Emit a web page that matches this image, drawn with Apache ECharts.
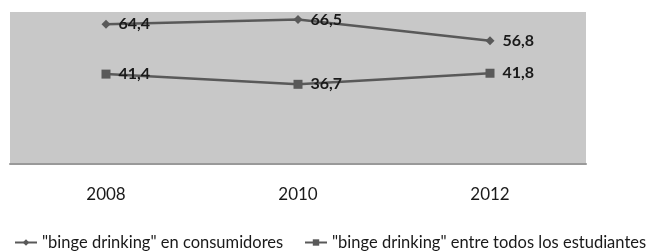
<!DOCTYPE html>
<html>
<head>
<meta charset="utf-8">
<script src="https://cdn.jsdelivr.net/npm/echarts@6/dist/echarts.min.js"></script>
<style>
  html, body { margin: 0; padding: 0; background: #fff; }
  #chart { width: 652px; height: 252px; }
</style>
</head>
<body>
<div id="chart"></div>
<script>
var years = ["2008", "2010", "2012"];
var consumidores = [64.4, 66.5, 56.8];
var estudiantes = [41.4, 36.7, 41.8];
var seriesNames = ['"binge drinking" en consumidores', '"binge drinking" entre todos los estudiantes'];

var font = "Lato, 'Liberation Sans', sans-serif";

function commaLabel(p) {
  return String(p.value).replace(".", ",");
}

// one legend per item so the long second entry never wraps
function legendAt(left, name) {
  return {
    top: 234, left: left, padding: 0,
    itemWidth: 22, itemHeight: 8, itemGap: 0,
    textStyle: { fontSize: 16.5, color: "#1a1a1a", fontFamily: font },
    data: [name]
  };
}

var chart = echarts.init(document.getElementById("chart"));
chart.setOption({
  animation: false,
  textStyle: { fontFamily: font },
  grid: {
    left: 10, top: 12, width: 576, height: 152,
    show: true, backgroundColor: "#c8c8c8", borderWidth: 0
  },
  legend: [legendAt(14, seriesNames[0]), legendAt(304, seriesNames[1])],
  xAxis: {
    type: "category",
    data: years,
    axisLine: { lineStyle: { color: "#999", width: 2 } },
    axisTick: { show: false },
    axisLabel: { fontSize: 17, color: "#1a1a1a", margin: 22 }
  },
  yAxis: {
    type: "value", min: 0, max: 70,
    show: false, splitLine: { show: false }
  },
  series: [
    {
      name: seriesNames[0], type: "line", data: consumidores,
      symbol: "diamond", symbolSize: 9,
      lineStyle: { color: "#595959", width: 2.5 },
      itemStyle: { color: "#595959" },
      label: { show: true, position: "right", distance: 8, formatter: commaLabel,
               fontSize: 16, fontWeight: "bold", color: "#1a1a1a" }
    },
    {
      name: seriesNames[1], type: "line", data: estudiantes,
      symbol: "rect", symbolSize: 9,
      lineStyle: { color: "#595959", width: 2.5 },
      itemStyle: { color: "#595959" },
      label: { show: true, position: "right", distance: 8, formatter: commaLabel,
               fontSize: 16, fontWeight: "bold", color: "#1a1a1a" }
    }
  ]
});
</script>
</body>
</html>
